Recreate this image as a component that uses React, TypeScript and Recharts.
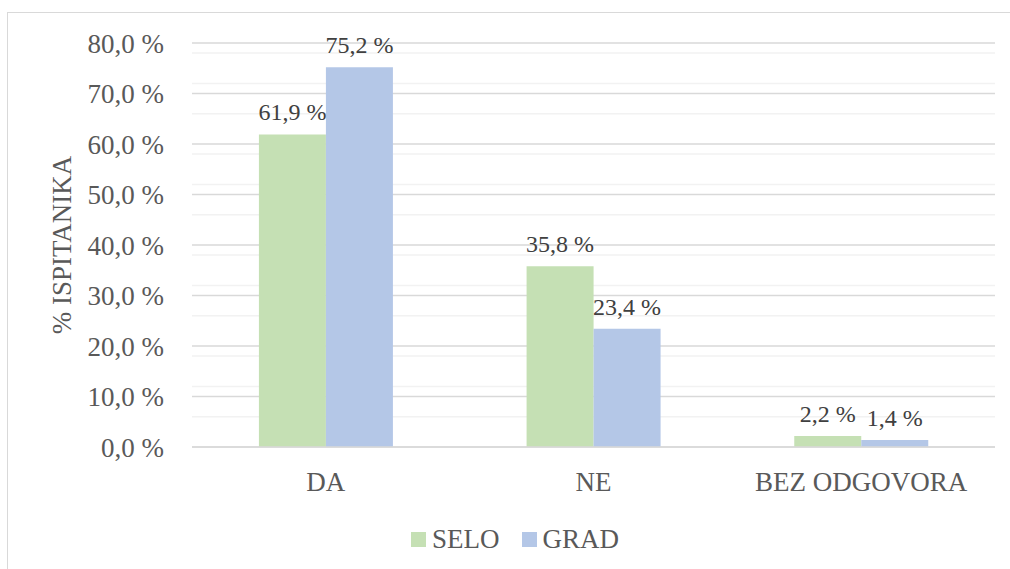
import { BarChart, Bar, XAxis, YAxis, CartesianGrid, LabelList } from 'recharts'

const categories = ['DA', 'NE', 'BEZ ODGOVORA']
const selo = [61.9, 35.8, 2.2]
const grad = [75.2, 23.4, 1.4]
const majorTicks = [0, 10, 20, 30, 40, 50, 60, 70, 80]
const minorTicks = [2, 4, 6, 8, 12, 14, 16, 18, 22, 24, 26, 28, 32, 34, 36, 38, 42, 44, 46, 48, 52, 54, 56, 58, 62, 64, 66, 68, 72, 74, 76, 78]

const data = categories.map((name, i) => ({ name, selo: selo[i], grad: grad[i] }))

const FONT = '"Liberation Serif", "DejaVu Serif", "Times New Roman", serif'
const GREEN = '#c5e0b4'
const BLUE = '#b4c7e7'

const series = [
  { key: 'selo', name: 'SELO', color: GREEN },
  { key: 'grad', name: 'GRAD', color: BLUE },
]

const fmt = (v: number) => `${v.toFixed(1).replace('.', ',')} %`

const AxisTitle = ({ viewBox }: any) => {
  const x = viewBox.x + 62
  const y = viewBox.y + viewBox.height / 2
  return (
    <text x={x} y={y} transform={`rotate(-90, ${x}, ${y})`} textAnchor="middle" dominantBaseline="central"
      fill="#595959" fontSize={27} fontFamily={FONT}>
      % ISPITANIKA
    </text>
  )
}

export default function App() {
  return (
    <div style={{ position: 'absolute', left: 0, top: 0, width: 1010, height: 569, background: '#fff', overflow: 'hidden' }}>
      <div style={{ position: 'absolute', left: 7, top: 12, width: 1020, height: 600, border: '1.5px solid #d9d9d9' }} />
      <div style={{ position: 'absolute', left: 0, top: 0 }}>
        <BarChart width={1010} height={569} data={data} barGap={0} barCategoryGap="25%"
          margin={{ top: 43, right: 15, left: 0, bottom: 92 }}>
          <CartesianGrid vertical={false} horizontalValues={minorTicks} stroke="#f2f2f2" strokeWidth={1.5} />
          <CartesianGrid vertical={false} horizontalValues={majorTicks} stroke="#d9d9d9" strokeWidth={1.5} />
          <XAxis dataKey="name" height={30} axisLine={{ stroke: '#d9d9d9', strokeWidth: 1.5 }} tickLine={false} tickSize={0} tickMargin={25}
            tick={{ fill: '#595959', fontSize: 27, fontFamily: FONT }} />
          <YAxis width={192} domain={[0, 80]} ticks={majorTicks} axisLine={false} tickLine={false} tickSize={0} tickMargin={28}
            tickFormatter={fmt} tick={{ fill: '#595959', fontSize: 27, fontFamily: FONT }}
            label={{ content: AxisTitle }} />
          {series.map(s => (
            <Bar key={s.key} dataKey={s.key} name={s.name} fill={s.color} isAnimationActive={false}>
              <LabelList dataKey={s.key} position="top" offset={14} formatter={(v: any) => fmt(v)}
                fill="#404040" fontSize={24} fontFamily={FONT} />
            </Bar>
          ))}
        </BarChart>
      </div>
      <div style={{ position: 'absolute', left: 411, top: 523, display: 'flex', alignItems: 'center',
        fontFamily: FONT, fontSize: 27, color: '#595959', lineHeight: '32px' }}>
        {series.map(s => (
          <div key={s.key} style={{ display: 'flex', alignItems: 'center', marginRight: 22 }}>
            <span style={{ width: 15, height: 15, background: s.color, display: 'inline-block', marginRight: 6 }} />
            <span>{s.name}</span>
          </div>
        ))}
      </div>
    </div>
  )
}
